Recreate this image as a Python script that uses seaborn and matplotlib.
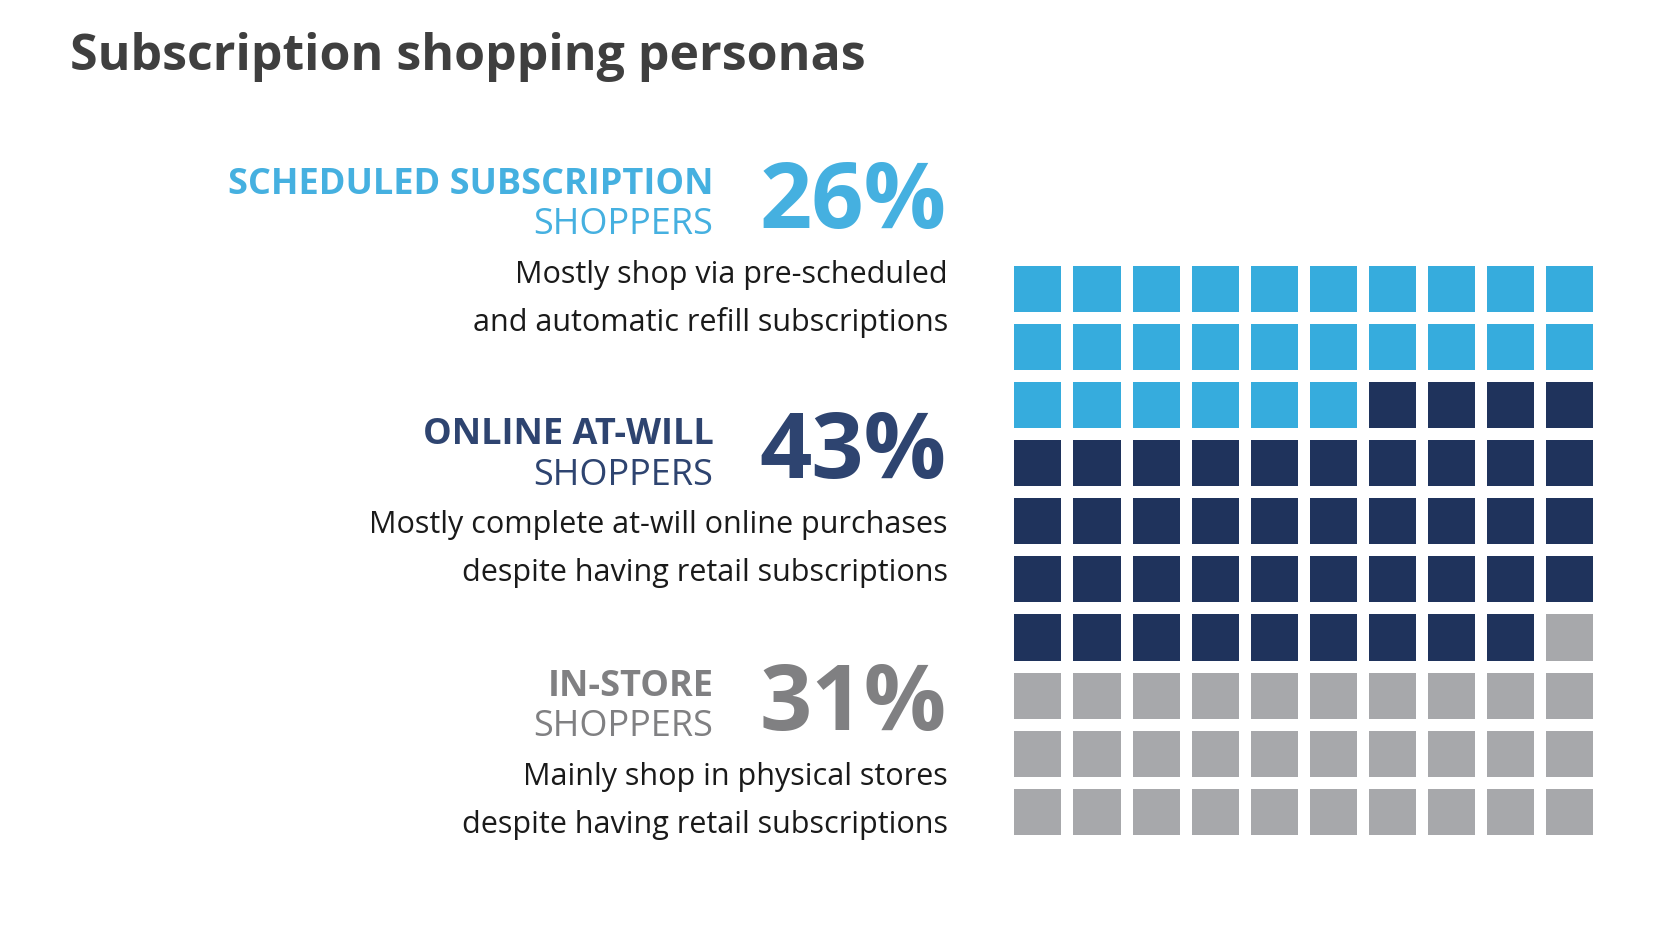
import matplotlib
matplotlib.use("Agg")
import matplotlib.pyplot as plt
import seaborn as sns
import numpy as np
from matplotlib.colors import ListedColormap

sns.set_theme(style="white")
plt.rcParams['font.family'] = ['Open Sans', 'DejaVu Sans']

categories_bold = ["SCHEDULED SUBSCRIPTION", "ONLINE AT-WILL", "IN-STORE"]
categories_light = ["SHOPPERS", "SHOPPERS", "SHOPPERS"]
values = [26, 43, 31]
descriptions = [
    ["Mostly shop via pre-scheduled", "and automatic refill subscriptions"],
    ["Mostly complete at-will online purchases", "despite having retail subscriptions"],
    ["Mainly shop in physical stores", "despite having retail subscriptions"],
]
colors = ["#36ACDD", "#1F335C", "#A7A8AB"]
text_colors = ["#45B0E0", "#2E4470", "#808082"]

W, H = 1656, 936
S = 1656 / 1560
fig = plt.figure(figsize=(W/100, H/100), dpi=100)

def fx(x): return x * S / W
def fy(y): return 1 - y * S / H

# waffle
cells = np.repeat(np.arange(len(values)), values).reshape(10, 10)
ax = fig.add_axes([fx(950), fy(792), 556 * S / W, 547 * S / H])
sns.heatmap(cells, cmap=ListedColormap(colors), cbar=False, linewidths=7.3,
            linecolor="white", ax=ax, xticklabels=False, yticklabels=False,
            vmin=-0.5, vmax=2.5)
ax.set_aspect("auto")

fig.text(fx(66), fy(54), "Subscription shopping personas", fontsize=36,
         fontweight="bold", color="#3F3F3F", va="center", ha="left")

tops = [174, 410, 647]
for i in range(3):
    y = tops[i]
    fig.text(fx(672), fy(y), categories_bold[i], fontsize=26, fontweight="bold",
             color=text_colors[i], ha="right", va="center")
    fig.text(fx(672), fy(y + 38), categories_light[i], fontsize=26,
             color=text_colors[i], ha="right", va="center")
    fig.text(fx(892), fy(y + 18), f"{values[i]}%", fontsize=66, fontweight="bold",
             color=text_colors[i], ha="right", va="center")
    for j, line in enumerate(descriptions[i]):
        fig.text(fx(893), fy(y + 85 + 45 * j), line, fontsize=22,
                 color="#1A1A1A", ha="right", va="center")

fig.savefig("out.png", dpi=100, facecolor="white")
